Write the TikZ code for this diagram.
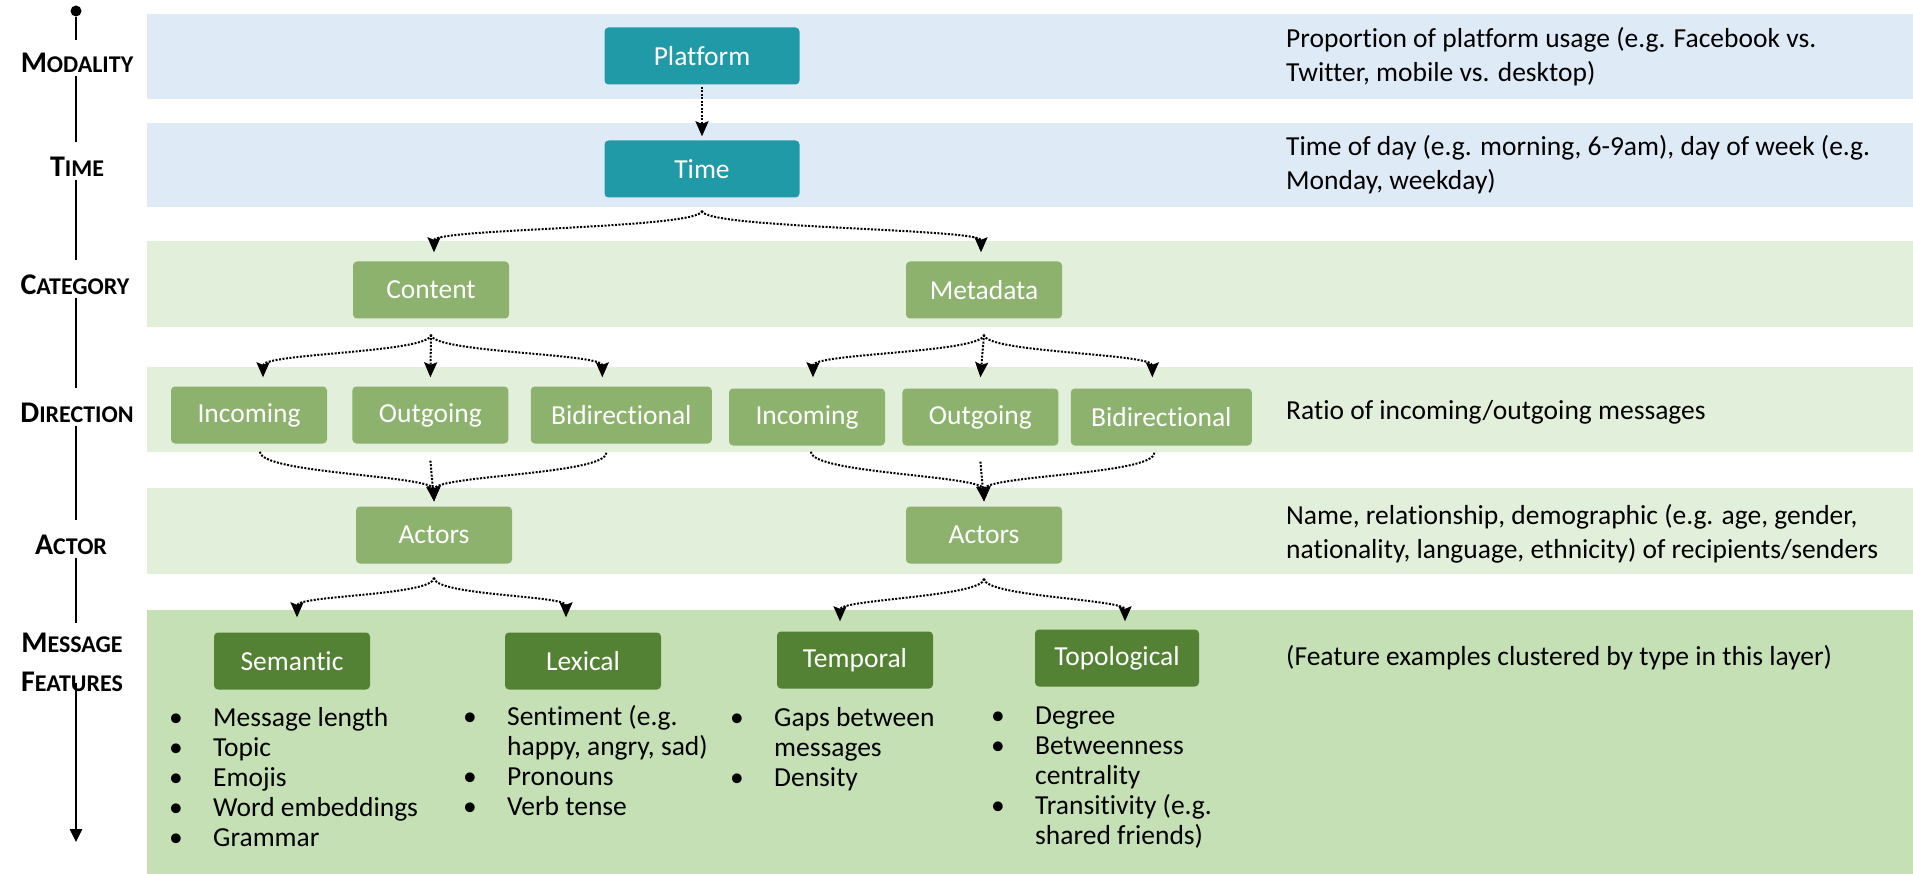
\documentclass[tikz,border=0pt]{standalone}
\usepackage{fontspec}
\setmainfont{Carlito}[Ligatures=NoCommon]
\usetikzlibrary{arrows.meta,positioning}

\definecolor{bandblue}{RGB}{222,234,246}
\definecolor{bandgreen}{RGB}{226,239,218}
\definecolor{featgreen}{RGB}{197,224,180}
\definecolor{tealbox}{RGB}{33,154,168}
\definecolor{olivebox}{RGB}{141,178,110}
\definecolor{darkbox}{RGB}{84,130,53}

% fake small caps for the layer names
\newcommand{\scname}[2]{{\fontsize{30}{36}\selectfont #1}{\fontsize{24}{29}\selectfont #2}}
\newcommand{\bul}{\makebox[44pt][l]{\textbullet}}

\begin{document}
\begin{tikzpicture}
		[x=1pt, y=1pt,
		box/.style = {rounded corners=4pt, text=white, minimum width=156pt, minimum height=57pt, inner sep=0pt, font=\fontsize{27.5}{33}\selectfont},
		mode/.style = {box, fill=tealbox, minimum width=195pt},
		cat/.style = {box, fill=olivebox},
		feat/.style = {box, fill=darkbox},
		layer/.style = {inner sep=3pt, align=center, font=\bfseries\fontsize{30}{39}\selectfont},
		desc/.style = {anchor=west, align=left, inner sep=0pt, font=\fontsize{27.5}{34}\selectfont},
		items/.style = {anchor=north west, inner sep=0pt, font=\fontsize{27.5}{30}\selectfont},
		flow/.style = {line width=2pt, dash pattern=on 2pt off 1.5pt, -{Stealth[length=15pt,width=13pt,inset=2.5pt]}},
		axis/.style = {line width=2.5pt, shorten >=12pt}]
	\useasboundingbox (0,0) rectangle (1913,-874);

	% layer bands
	\fill[bandblue] (147,-14) rectangle (1913,-99);
	\fill[bandblue] (147,-123) rectangle (1913,-207);
	\fill[bandgreen] (147,-241) rectangle (1913,-327);
	\fill[bandgreen] (147,-367) rectangle (1913,-452);
	\fill[bandgreen] (147,-488) rectangle (1913,-574);
	\fill[featgreen] (147,-610) rectangle (1913,-874);

	% hierarchy
	\node[mode] (plat) at (702,-56) {Platform};
	\node[mode] (time) at (702,-169) {Time};
	\node[cat] (cont) at (431,-290) {Content};
	\node[cat] (meta) at (984,-290) {Metadata};
	\node[cat] (in1) at (249,-415) {Incoming};
	\node[cat] (out1) [right=25pt of in1] {Outgoing};
	\node[cat, minimum width=181pt] (bi1) [right=22pt of out1] {Bidirectional};
	\node[cat] (in2) at (807,-417) {Incoming};
	\node[cat] (out2) [right=17pt of in2] {Outgoing};
	\node[cat, minimum width=181pt] (bi2) [right=12pt of out2] {Bidirectional};
	\node[cat] (act1) at (434,-535) {Actors};
	\node[cat] (act2) at (984,-535) {Actors};
	\node[feat] (sem) at (292,-661) {Semantic};
	\node[feat] (lex) at (583,-661) {Lexical};
	\node[feat] (temp) at (855,-660) {Temporal};
	\node[feat, minimum width=164pt] (topo) at (1117,-658) {Topological};

	\coordinate (time-fork) at ([yshift=-13pt]time.south);
	\coordinate (cont-fork) at ([yshift=-16pt]cont.south);
	\coordinate (meta-fork) at ([yshift=-16pt]meta.south);
	\coordinate (act1-fork) at ([yshift=-14pt]act1.south);
	\coordinate (act2-fork) at ([yshift=-15pt]act2.south);

	\draw[flow, shorten <=2pt, shorten >=4pt] (plat) -- (time);
	\draw[flow] (time-fork) .. controls +(0,-18) and +(0,24) .. ([xshift=3pt,yshift=9pt]cont.north);
	\draw[flow] (time-fork) .. controls +(0,-18) and +(0,24) .. ([xshift=-3pt,yshift=9pt]meta.north);
	\draw[flow] (cont-fork) .. controls +(0,-18) and +(0,24) .. ([xshift=14pt,yshift=9pt]in1.north);
	\draw[flow] (cont-fork) -- ([yshift=9pt]out1.north);
	\draw[flow] (cont-fork) .. controls +(0,-18) and +(0,24) .. ([xshift=-19pt,yshift=9pt]bi1.north);
	\draw[flow] (meta-fork) .. controls +(0,-18) and +(0,24) .. ([xshift=6pt,yshift=11pt]in2.north);
	\draw[flow] (meta-fork) -- ([yshift=11pt]out2.north);
	\draw[flow] (meta-fork) .. controls +(0,-18) and +(0,24) .. ([xshift=-9pt,yshift=11pt]bi2.north);
	\draw[flow] ([xshift=11pt,yshift=-8pt]in1.south) .. controls +(0,-22) and +(0,26) .. ([yshift=5pt]act1.north);
	\draw[flow] ([yshift=-17pt]out1.south) -- ([yshift=5pt]act1.north);
	\draw[flow] ([xshift=-15pt,yshift=-9pt]bi1.south) .. controls +(0,-22) and +(0,26) .. ([yshift=5pt]act1.north);
	\draw[flow] ([xshift=4pt,yshift=-6pt]in2.south) .. controls +(0,-22) and +(0,26) .. ([yshift=5pt]act2.north);
	\draw[flow] ([yshift=-16pt]out2.south) -- ([yshift=5pt]act2.north);
	\draw[flow] ([xshift=-7pt,yshift=-7pt]bi2.south) .. controls +(0,-22) and +(0,26) .. ([yshift=5pt]act2.north);
	\draw[flow] (act1-fork) .. controls +(0,-18) and +(0,22) .. ([xshift=5pt,yshift=15pt]sem.north);
	\draw[flow] (act1-fork) .. controls +(0,-18) and +(0,22) .. ([xshift=-17pt,yshift=15pt]lex.north);
	\draw[flow] (act2-fork) .. controls +(0,-18) and +(0,22) .. ([xshift=-15pt,yshift=10pt]temp.north);
	\draw[flow] (act2-fork) .. controls +(0,-18) and +(0,22) .. ([xshift=8pt,yshift=8pt]topo.north);

	% feature examples
	\node[items] (sem-list) at (169,-705) {\begin{tabular}{@{}l@{}l@{}}
		\bul & Message length\\ \bul & Topic\\ \bul & Emojis\\ \bul & Word embeddings\\ \bul & Grammar
	\end{tabular}};
	\node[items] (lex-list) at (463,-704) {\begin{tabular}{@{}l@{}l@{}}
		\bul & Sentiment (e.g.\\ & happy, angry, sad)\\ \bul & Pronouns\\ \bul & Verb tense
	\end{tabular}};
	\node[items] (temp-list) at (730,-705) {\begin{tabular}{@{}l@{}l@{}}
		\bul & Gaps between\\ & messages\\ \bul & Density
	\end{tabular}};
	\node[items] (topo-list) at (991,-703) {\begin{tabular}{@{}l@{}l@{}}
		\bul & Degree\\ \bul & Betweenness\\ & centrality\\ \bul & Transitivity (e.g.\\ & shared friends)
	\end{tabular}};

	% layer axis
	\node[circle, fill, inner sep=0pt, minimum size=11pt] (ax-top) at (76,-11) {};
	\node[layer] (l-mod) at (77,-63) {\scname{M}{ODALITY}};
	\node[layer] (l-time) at (77,-167) {\scname{T}{IME}};
	\node[layer] (l-cat) at (75,-285) {\scname{C}{ATEGORY}};
	\node[layer] (l-dir) at (77,-413) {\scname{D}{IRECTION}};
	\node[layer] (l-act) at (71,-545) {\scname{A}{CTOR}};
	\node[layer] (l-msg) at (72,-662) {\scname{M}{ESSAGE}\\\scname{F}{EATURES}};
	\coordinate (ax-end) at (76,-842);
	\draw[axis, shorten >=10pt] (ax-top) -- (l-mod.north -| ax-top);
	\draw[axis] (l-mod.south -| ax-top) -- (l-time.north -| ax-top);
	\draw[axis] (l-time.south -| ax-top) -- (l-cat.north -| ax-top);
	\draw[axis] (l-cat.south -| ax-top) -- (l-dir.north -| ax-top);
	\draw[axis] (l-dir.south -| ax-top) -- (l-act.north -| ax-top);
	\draw[axis, shorten >=6pt] (l-act.south -| ax-top) -- (l-msg.north -| ax-top);
	\draw[line width=2.5pt, shorten <=-12pt, -{Triangle[length=13pt,width=12pt]}] (l-msg.south -| ax-top) -- (ax-end);

	% descriptions
	\node[desc] (d-mod) at (1286,-57) {Proportion of platform usage (e.g. Facebook vs.\\Twitter, mobile vs. desktop)};
	\node[desc] (d-time) at (1286,-164.5) {Time of day (e.g. morning, 6-9am), day of week (e.g.\\Monday, weekday)};
	\node[desc] (d-dir) at (1286,-412) {Ratio of incoming/outgoing messages};
	\node[desc] (d-act) at (1286,-533.5) {Name, relationship, demographic (e.g. age, gender,\\nationality, language, ethnicity) of recipients/senders};
	\node[desc] (d-feat) at (1286,-658) {(Feature examples clustered by type in this layer)};
\end{tikzpicture}
\end{document}
